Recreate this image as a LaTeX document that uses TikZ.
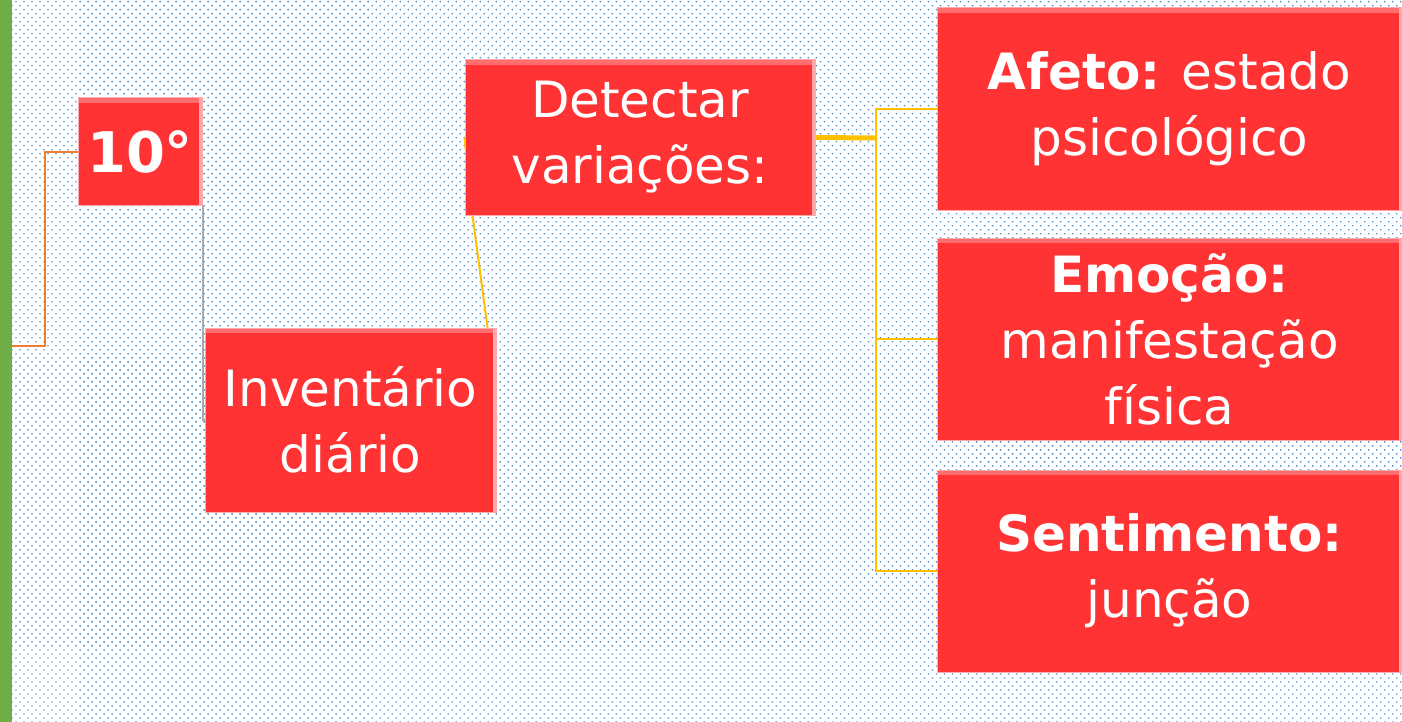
\documentclass[tikz,border=0pt]{standalone}
\usepackage{fontspec}
\setmainfont{DejaVu Sans}
\usepackage{xcolor}
\usepackage{tikz}
\usetikzlibrary{patterns.meta,calc}
\definecolor{boxred}{RGB}{255,51,51}
\definecolor{boxtop}{RGB}{255,110,110}
\definecolor{boxside}{RGB}{255,170,170}
\definecolor{dotblue}{RGB}{70,140,210}
\definecolor{bargreen}{RGB}{112,173,71}
\definecolor{lnorange}{RGB}{237,125,49}
\definecolor{lnyellow}{RGB}{255,192,0}
\definecolor{lngray}{RGB}{170,170,170}
\pgfdeclarelayer{back}
\pgfdeclarelayer{lines}
\pgfsetlayers{back,lines,main}

\begin{document}
\begin{tikzpicture}[x=0.5pt,y=-0.5pt]
    \tikzstyle{every node}=[font=\fontsize{25}{33}\selectfont, text=white]
    \tikzstyle{redbox}=[fill=boxred, draw=boxside, line width=0.5pt, inner sep=0pt, align=center,
      path picture={\fill[boxtop] (path picture bounding box.north west) rectangle ([yshift=-2.5pt]path picture bounding box.north east);
        \fill[boxside] ([xshift=-1.5pt]path picture bounding box.south east) rectangle (path picture bounding box.north east);}]
    \tikzstyle{rightbox}=[redbox, minimum width=232.5pt, minimum height=101pt]
    \tikzstyle{yline}=[lnyellow, line width=1pt]
    \useasboundingbox (0,0) rectangle (1402,722); %
    \begin{pgfonlayer}{back}
    \fill[white] (0,0) rectangle (1402,722); %
    \fill[pattern={Dots[distance=2.83pt, angle=45, radius=0.5pt]}, pattern color=dotblue] (12,0) rectangle (1402,722); %
    \fill[bargreen] (0,0) rectangle (12,722); %
    \end{pgfonlayer}
    \coordinate (bar) at (12,346); %
    \coordinate (hub) at (876,138); %
    \node[redbox, minimum width=62pt, minimum height=53.5pt, font=\fontsize{28}{34}\selectfont\bfseries] (deg) at (140,151.5) {10°}; %
    \node[redbox, minimum width=145.5pt, minimum height=92pt] (inv) at (350.5,420) {Inventário\\diário}; %
    \node[redbox, minimum width=175pt, minimum height=77.5pt] (det) at (640,137.5) {Detectar\\variações:}; %
    \node[rightbox] (afe) at (1169.5,109) {\textbf{Afeto:} estado\\psicológico}; %
    \node[rightbox] (emo) at (1169.5,339) {\textbf{Emoção:}\\manifestação\\física}; %
    \node[rightbox] (sen) at (1169.5,571) {\textbf{Sentimento:}\\junção}; %
    % connectors go under the boxes
    \begin{pgfonlayer}{lines}
    \draw[lnorange, line width=1pt] (bar) -- ++(33,0) |- (deg.west); %
    \draw[lngray, line width=1pt] (deg.south east) |- (inv.west); %
    \draw[yline] (inv.east) -- ([xshift=-4.5pt]inv.north east) -- ([xshift=4pt]det.south west) -- (det.west); %
    \draw[lnyellow, line width=2.5pt] (det.east) -- (hub); %
    \draw[yline] (hub) |- (afe.west); %
    \draw[yline] (hub) |- (emo.west); %
    \draw[yline] (hub) |- (sen.west); %
    \end{pgfonlayer}
\end{tikzpicture}
\end{document}
